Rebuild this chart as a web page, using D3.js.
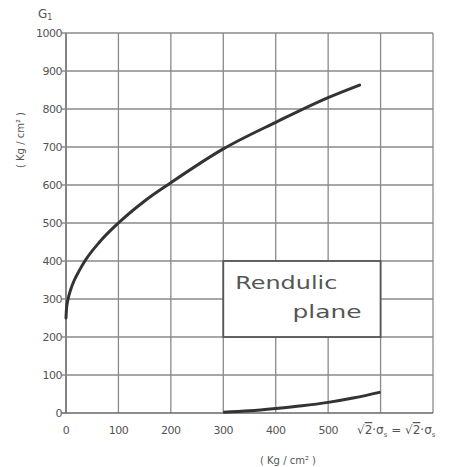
<!DOCTYPE html>
<html>
<head>
<meta charset="utf-8">
<script src="https://cdn.jsdelivr.net/npm/d3@7"></script>
<style>
  body { margin: 0; background: #fff; }
  text { font-family: "DejaVu Sans", sans-serif; fill: #555; }
</style>
</head>
<body>
<svg id="chart" width="449" height="467"></svg>
<script>
// values
const xTicks = [0, 100, 200, 300, 400, 500];
const yTicks = [0, 100, 200, 300, 400, 500, 600, 700, 800, 900, 1000];
const gridX = [0, 100, 200, 300, 400, 500, 600, 700];

const upperX = [0, 1, 4, 9, 16, 25, 36, 64, 100, 150, 200, 300, 400, 500, 560];
const upperY = [250, 275, 300, 325, 350, 374, 400, 450, 500, 558, 606, 695, 765, 830, 863];

const lowerX = [300, 350, 400, 450, 500, 550, 600];
const lowerY = [2, 6, 12, 19, 28, 40, 55];

const boxX = [300, 600];
const boxY = [200, 400];

const svg = d3.select("#chart");

const x = d3.scaleLinear().domain([0, 700]).range([66, 433]);
const y = d3.scaleLinear().domain([0, 1000]).range([413, 33]);

// grid
svg.append("g")
  .selectAll("line")
  .data(gridX)
  .join("line")
  .attr("x1", d => x(d)).attr("x2", d => x(d))
  .attr("y1", y(0)).attr("y2", y(1000))
  .attr("stroke", d => d === 0 ? "#666" : "#8a8a8a")
  .attr("stroke-width", d => d === 0 ? 1.6 : 1.3);

svg.append("g")
  .selectAll("line")
  .data(yTicks)
  .join("line")
  .attr("x1", x(0) - 4).attr("x2", x(700))
  .attr("y1", d => y(d)).attr("y2", d => y(d))
  .attr("stroke", d => d === 0 ? "#666" : "#8a8a8a")
  .attr("stroke-width", d => d === 0 ? 1.6 : 1.3);

// y tick labels
svg.append("g")
  .selectAll("text")
  .data(yTicks)
  .join("text")
  .attr("x", x(0) - 4)
  .attr("y", d => y(d) + 4)
  .attr("text-anchor", "end")
  .attr("font-size", 11)
  .attr("letter-spacing", -0.5)
  .text(d => d);

// x tick labels
svg.append("g")
  .selectAll("text")
  .data(xTicks)
  .join("text")
  .attr("x", d => x(d))
  .attr("y", 434)
  .attr("text-anchor", "middle")
  .attr("font-size", 11)
  .attr("letter-spacing", -0.5)
  .text(d => d);

// sqrt label at the end of the x axis
const sq = svg.append("text")
  .attr("x", 357)
  .attr("y", 434)
  .attr("font-size", 12);
sq.append("tspan").text("√");
sq.append("tspan").attr("text-decoration", "overline").text("2");
sq.append("tspan").text("·σ");
sq.append("tspan").attr("font-size", 7).attr("dy", 3).text("s");
sq.append("tspan").attr("dy", -3).text(" = √");
sq.append("tspan").attr("text-decoration", "overline").text("2");
sq.append("tspan").text("·σ");
sq.append("tspan").attr("font-size", 7).attr("dy", 3).text("s");

// axis titles
svg.append("text")
  .attr("x", 288).attr("y", 464)
  .attr("text-anchor", "middle")
  .attr("font-size", 10)
  .text("( Kg / cm² )");

svg.append("text")
  .attr("transform", "translate(24,140) rotate(-90)")
  .attr("text-anchor", "middle")
  .attr("font-size", 10)
  .text("( Kg / cm² )");

const g1 = svg.append("text")
  .attr("x", 38).attr("y", 18)
  .attr("font-size", 12);
g1.append("tspan").text("G");
g1.append("tspan").attr("font-size", 8).attr("dy", 2).text("1");

// Rendulic plane box
svg.append("rect")
  .attr("x", x(boxX[0]))
  .attr("y", y(boxY[1]))
  .attr("width", x(boxX[1]) - x(boxX[0]))
  .attr("height", y(boxY[0]) - y(boxY[1]))
  .attr("fill", "#fff")
  .attr("stroke", "#555")
  .attr("stroke-width", 1.8);

svg.append("text")
  .attr("x", x(boxX[0]) + 12)
  .attr("y", 289)
  .attr("font-size", 17)
  .attr("fill", "#444")
  .attr("textLength", 102)
  .attr("lengthAdjust", "spacingAndGlyphs")
  .text("Rendulic");

svg.append("text")
  .attr("x", x(boxX[1]) - 88)
  .attr("y", 318)
  .attr("font-size", 17)
  .attr("fill", "#444")
  .attr("textLength", 69)
  .attr("lengthAdjust", "spacingAndGlyphs")
  .text("plane");

// curves
const line = d3.line()
  .x(d => x(d[0]))
  .y(d => y(d[1]))
  .curve(d3.curveMonotoneX);

svg.append("path")
  .datum(d3.zip(upperX, upperY))
  .attr("fill", "none")
  .attr("stroke", "#333")
  .attr("stroke-width", 3)
  .attr("stroke-linecap", "round")
  .attr("d", line);

svg.append("path")
  .datum(d3.zip(lowerX, lowerY))
  .attr("fill", "none")
  .attr("stroke", "#333")
  .attr("stroke-width", 3)
  .attr("d", line);
</script>
</body>
</html>
